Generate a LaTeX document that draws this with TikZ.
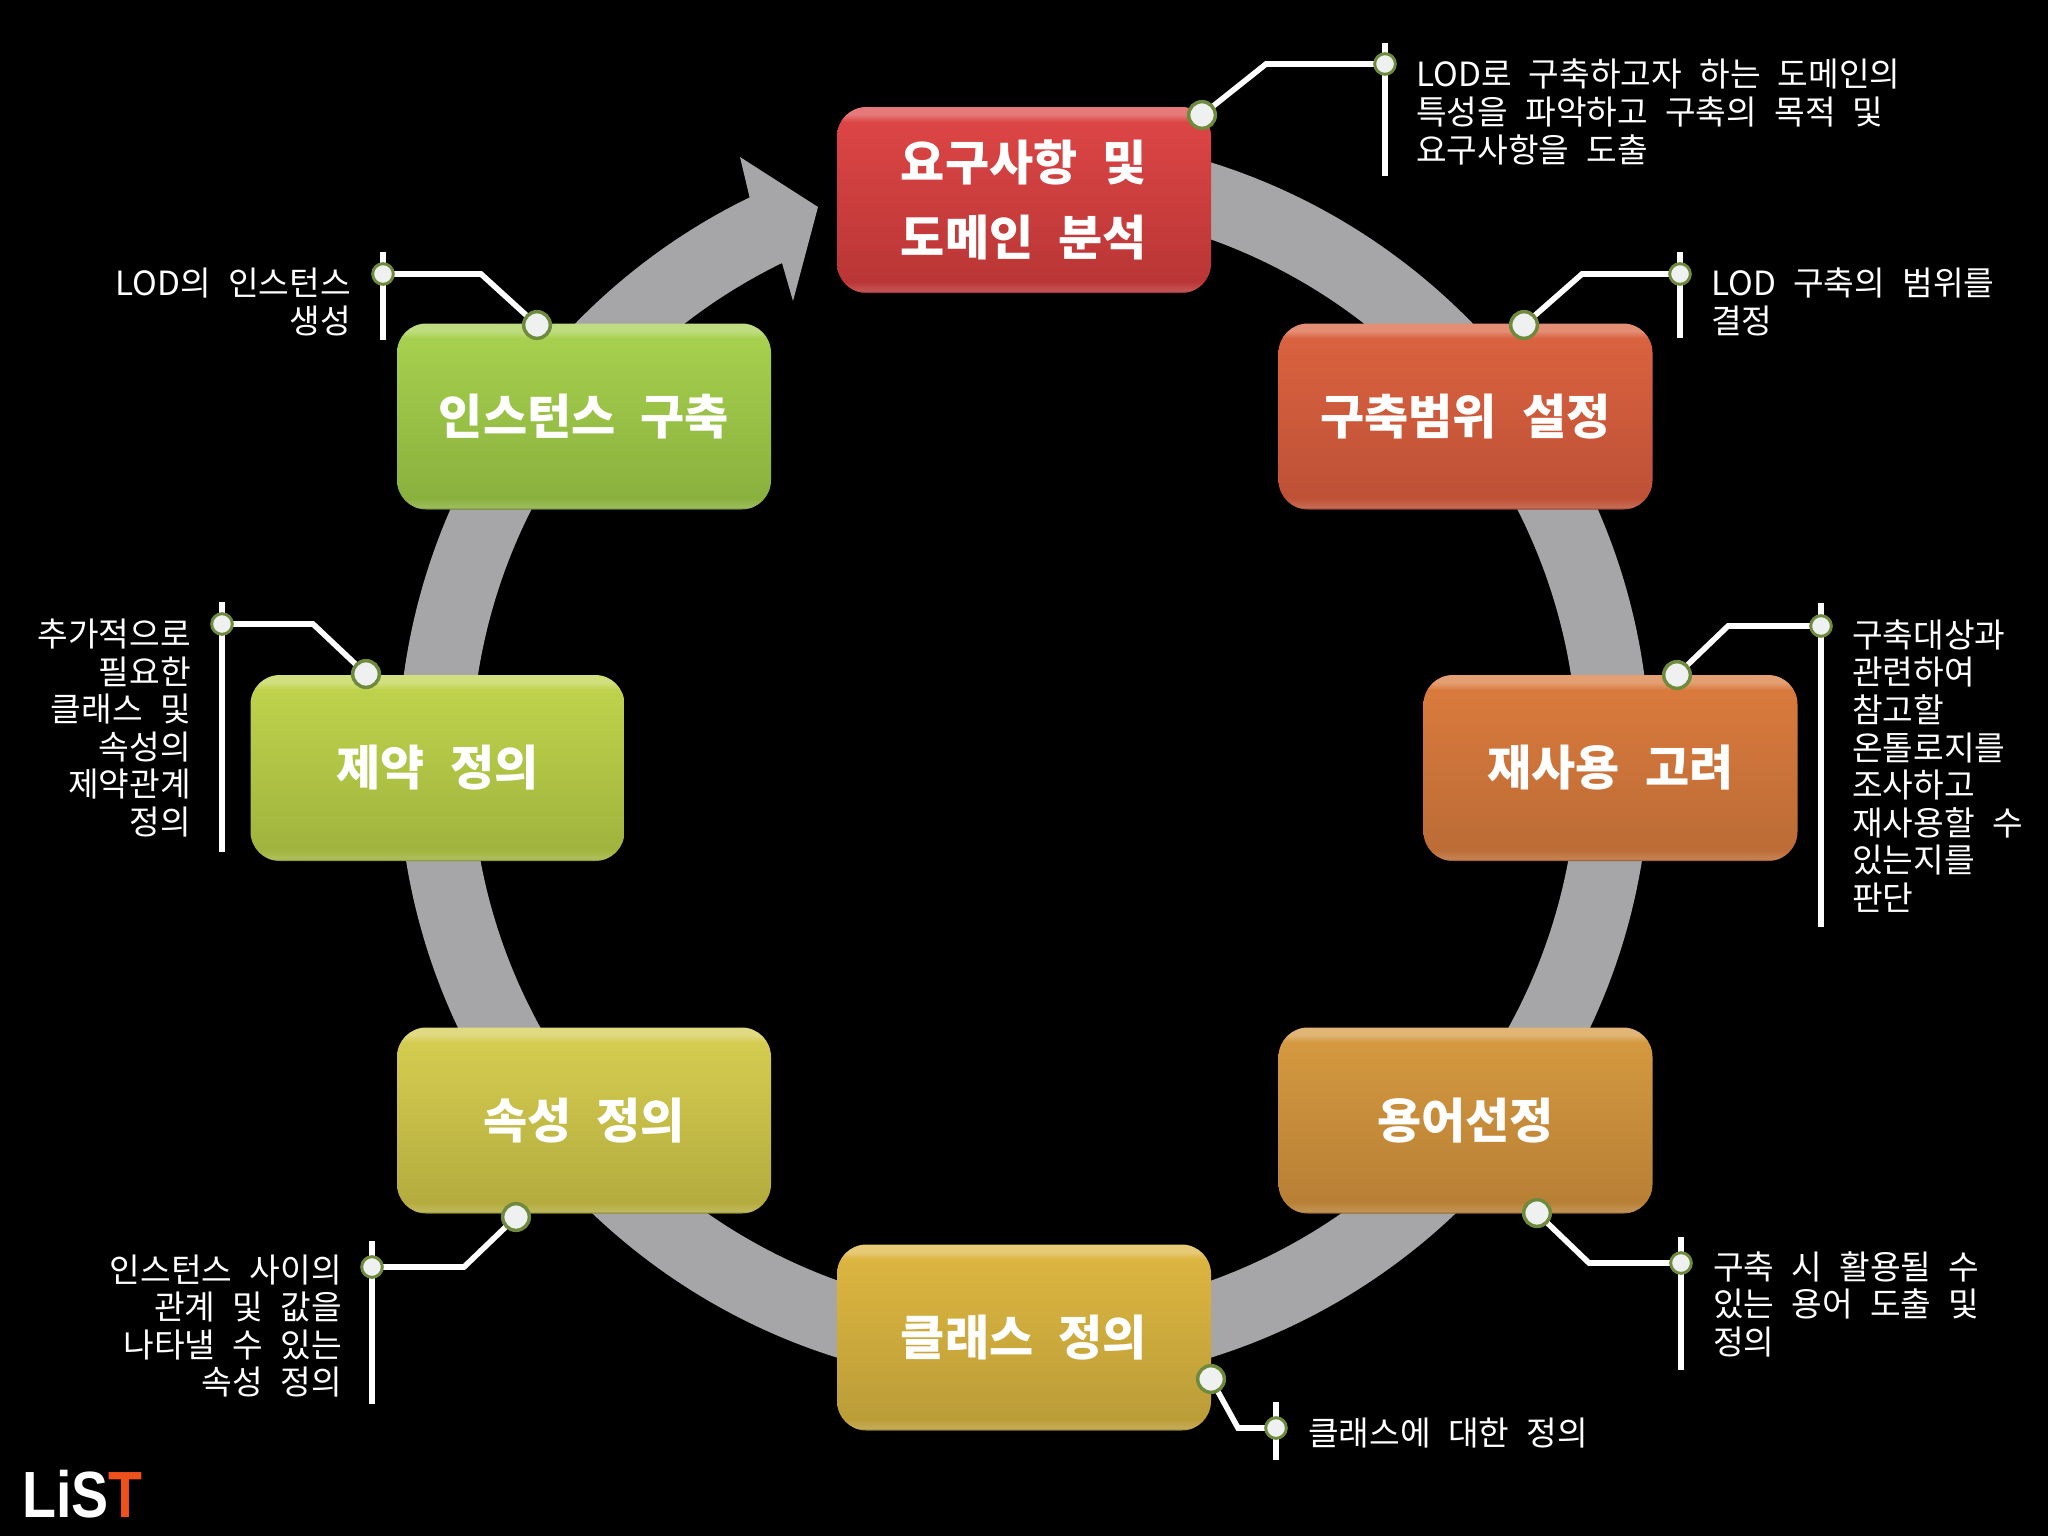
\documentclass[tikz,border=0pt]{standalone}
\usepackage{fontspec}
\setmainfont{Noto Sans CJK KR}
\newfontfamily\lblfont[WordSpace=1.7]{Noto Sans CJK KR}
\newfontfamily\boxfont[WordSpace=2.3]{Noto Sans CJK KR}
\newfontfamily\logofont{Liberation Sans}
\definecolor{ringgray}{HTML}{A6A5A8}
\definecolor{dotfill}{HTML}{EEF1F0}
\definecolor{dotedge}{HTML}{6F8A3C}
\definecolor{logoorange}{HTML}{F0501E}
\newcommand\mkbox[3]{%
  \definecolor{#1B}{HTML}{#2}\definecolor{#1C}{HTML}{#3}%
  \colorlet{#1A}{#1B!72!white}\colorlet{#1E}{#1C!85!white}\colorlet{#1D}{#1C!70!black}%
  \pgfdeclareverticalshading{#1Sh}{100bp}{color(0bp)=(#1D);color(25bp)=(#1D);color(25.6bp)=(#1E);color(28bp)=(#1C);color(71bp)=(#1B);color(73bp)=(#1A);color(75bp)=(#1A);color(100bp)=(#1A)}}
\mkbox{rd}{DC4545}{BA3636}
\mkbox{og}{D9623F}{BE5136}
\mkbox{am}{D97A3D}{BC6C36}
\mkbox{tn}{D4983F}{B88036}
\mkbox{gd}{DCB540}{BB9D38}
\mkbox{yl}{D4CC50}{B4AC3E}
\mkbox{lm}{BFD24C}{A0B43E}
\mkbox{gr}{A6D04E}{8AB13E}
\tikzset{
  procbox/.style={minimum width=280.5pt,minimum height=139.5pt,rounded corners=22pt,inner sep=0pt,
    align=center,text=white,font=\boxfont\bfseries\fontsize{36}{56}\selectfont},
  leader/.style={draw=white,line width=4.2pt,line join=miter},
  barline/.style={draw=white,line width=4.5pt},
  bigdot/.style={circle,fill=dotfill,draw=dotedge,line width=2.6pt,minimum size=20pt,inner sep=0pt},
  smalldot/.style={circle,fill=dotfill,draw=dotedge,line width=2.2pt,minimum size=15.5pt,inner sep=0pt},
  lbl/.style={text=white,inner sep=0pt,font=\lblfont\fontsize{25}{28.2}\selectfont},
  lblr/.style={lbl,anchor=east,align=right},
  lbll/.style={lbl,anchor=west,align=left},
}
\begin{document}
\begin{tikzpicture}[x=0.75pt,y=-0.75pt]
\useasboundingbox (0,0) rectangle (2048,1536);
\fill[black] (0,0) rectangle (2048,1536);
% ring arrow
\fill[ringgray] (1024,134) arc[start angle=-90,end angle=244,radius=626]
  -- (740,157) -- (818,207) -- (793,301) -- (782,263)
  arc[start angle=244,end angle=-90,radius=553] -- cycle;
% boxes
\node[procbox,shading=rdSh] (b1) at (1024,200) {요구사항 및\\도메인 분석};
\node[procbox,shading=ogSh] (b2) at (1465.5,416.5) {구축범위 설정};
\node[procbox,shading=amSh] (b3) at (1610.5,768) {재사용 고려};
\node[procbox,shading=tnSh] (b4) at (1465.5,1120.5) {용어선정};
\node[procbox,shading=gdSh] (b5) at (1024,1337.5) {클래스 정의};
\node[procbox,shading=ylSh] (b6) at (584,1120.5) {속성 정의};
\node[procbox,shading=lmSh] (b7) at (437.5,768) {제약 정의};
\node[procbox,shading=grSh] (b8) at (584,416.5) {인스턴스 구축};
% bars
\coordinate (t1) at (1385,43); \coordinate (u1) at (1385,176);
\coordinate (t2) at (1680,252); \coordinate (u2) at (1680,338);
\coordinate (t3) at (1821,603); \coordinate (u3) at (1821,927);
\coordinate (t4) at (1681,1237); \coordinate (u4) at (1681,1370);
\coordinate (t5) at (1276,1402); \coordinate (u5) at (1276,1460);
\coordinate (t6) at (372,1241); \coordinate (u6) at (372,1404);
\coordinate (t7) at (222,602); \coordinate (u7) at (222,852);
\coordinate (t8) at (383,252); \coordinate (u8) at (383,340);
\foreach \i in {1,...,8} \draw[barline] (t\i) -- (u\i);
% elbows
\coordinate (e1) at (1266,64);
\coordinate (e2) at (1582,274);
\coordinate (e3) at (1728,626);
\coordinate (e4) at (1589,1263);
\coordinate (e5) at (1238,1428);
\coordinate (e6) at (464,1267);
\coordinate (e7) at (313,624);
\coordinate (e8) at (481,274);
% dots
\coordinate (pa1) at (1202,115); \coordinate (pb1) at (1385,64);
\coordinate (pa2) at (1524,325); \coordinate (pb2) at (1680,274);
\coordinate (pa3) at (1677,675); \coordinate (pb3) at (1821,626);
\coordinate (pa4) at (1537,1213); \coordinate (pb4) at (1681,1263);
\coordinate (pa5) at (1211,1379); \coordinate (pb5) at (1276,1428);
\coordinate (pa6) at (516,1217); \coordinate (pb6) at (372,1267);
\coordinate (pa7) at (366,674); \coordinate (pb7) at (222,624);
\coordinate (pa8) at (537,325); \coordinate (pb8) at (383,274);
\foreach \i in {1,...,8} {
  \draw[leader] (pa\i) -- (e\i) -- (pb\i);
  \node[bigdot] (da\i) at (pa\i) {};
  \node[smalldot] (db\i) at (pb\i) {};
}
% labels
\node[lbll] (l1) at (1416,112) {LOD로 구축하고자 하는 도메인의\\특성을 파악하고 구축의 목적 및\\요구사항을 도출};
\node[lbll] (l2) at (1711,302) {LOD 구축의 범위를\\결정};
\node[lbll] (l3) at (1852,766) {구축대상과\\관련하여\\참고할\\온톨로지를\\조사하고\\재사용할 수\\있는지를\\판단};
\node[lbll] (l4) at (1713,1304) {구축 시 활용될 수\\있는 용어 도출 및\\정의};
\node[lbll] (l5) at (1308,1433) {클래스에 대한 정의};
\node[lblr] (l6) at (342,1326) {인스턴스 사이의\\관계 및 값을\\나타낼 수 있는\\속성 정의};
\node[lblr] (l7) at (191,728) {추가적으로\\필요한\\클래스 및\\속성의\\제약관계\\정의};
\node[lblr] (l8) at (351,302) {LOD의 인스턴스\\생성};
% logo
\node[anchor=base west,inner sep=0pt,font=\logofont\bfseries\fontsize{49}{49}\selectfont] (logo) at (22,1517)
  {\scalebox{.85}[1]{\textcolor{white}{LiS}\textcolor{logoorange}{T}}};
\end{tikzpicture}
\end{document}
